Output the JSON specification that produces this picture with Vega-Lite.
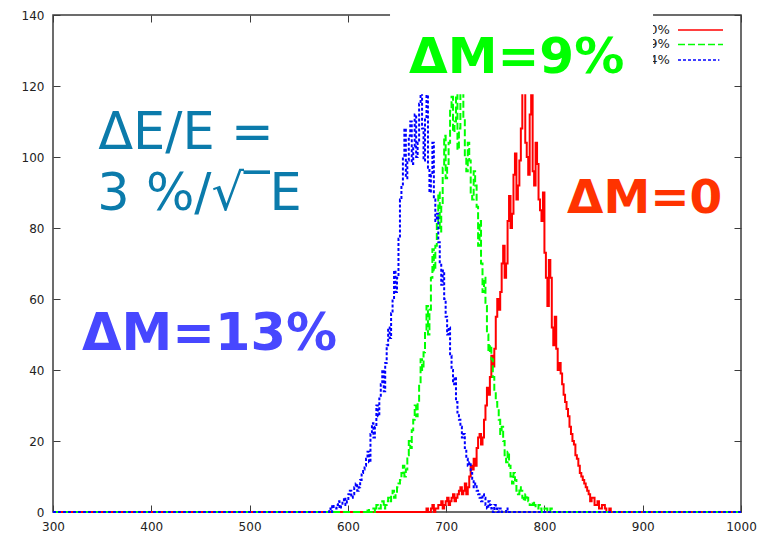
{
  "$schema": "https://vega.github.io/schema/vega-lite/v6.json",
  "width": 688,
  "height": 497,
  "autosize": {"type": "none"},
  "padding": {"left": 53, "top": 15, "right": 26, "bottom": 24},
  "background": "white",
  "config": {
    "view": {"stroke": "#3c3c3c", "strokeWidth": 1.5},
    "axis": {"domain": false, "grid": false, "ticks": true, "tickSize": -7, "tickColor": "#3c3c3c", "tickWidth": 1, "labelFont": "DejaVu Sans", "labelFontSize": 12, "labelColor": "#222222", "title": null},
    "text": {"font": "DejaVu Sans"}
  },
  "datasets": {
    "hist": [
      {"s": "ΔM=0", "x": 300, "n": 0}, {"s": "ΔM=0", "x": 680, "n": 1}, {"s": "ΔM=0", "x": 683, "n": 0}, {"s": "ΔM=0", "x": 686, "n": 2}, {"s": "ΔM=0", "x": 689, "n": 1}, {"s": "ΔM=0", "x": 692, "n": 2}, {"s": "ΔM=0", "x": 695, "n": 3}, {"s": "ΔM=0", "x": 698, "n": 2}, {"s": "ΔM=0", "x": 701, "n": 4}, {"s": "ΔM=0", "x": 704, "n": 3}, {"s": "ΔM=0", "x": 707, "n": 5}, {"s": "ΔM=0", "x": 710, "n": 4}, {"s": "ΔM=0", "x": 713, "n": 6}, {"s": "ΔM=0", "x": 716, "n": 5}, {"s": "ΔM=0", "x": 719, "n": 8}, {"s": "ΔM=0", "x": 722, "n": 7}, {"s": "ΔM=0", "x": 725, "n": 13}, {"s": "ΔM=0", "x": 728, "n": 15}, {"s": "ΔM=0", "x": 731, "n": 18}, {"s": "ΔM=0", "x": 734, "n": 22}, {"s": "ΔM=0", "x": 737, "n": 21}, {"s": "ΔM=0", "x": 740, "n": 30}, {"s": "ΔM=0", "x": 743, "n": 33}, {"s": "ΔM=0", "x": 746, "n": 44}, {"s": "ΔM=0", "x": 749, "n": 46}, {"s": "ΔM=0", "x": 752, "n": 60}, {"s": "ΔM=0", "x": 755, "n": 62}, {"s": "ΔM=0", "x": 758, "n": 75}, {"s": "ΔM=0", "x": 761, "n": 70}, {"s": "ΔM=0", "x": 764, "n": 89}, {"s": "ΔM=0", "x": 767, "n": 84}, {"s": "ΔM=0", "x": 770, "n": 101}, {"s": "ΔM=0", "x": 773, "n": 92}, {"s": "ΔM=0", "x": 776, "n": 108}, {"s": "ΔM=0", "x": 779, "n": 118}, {"s": "ΔM=0", "x": 782, "n": 100}, {"s": "ΔM=0", "x": 785, "n": 112}, {"s": "ΔM=0", "x": 788, "n": 96}, {"s": "ΔM=0", "x": 791, "n": 104}, {"s": "ΔM=0", "x": 794, "n": 88}, {"s": "ΔM=0", "x": 797, "n": 82}, {"s": "ΔM=0", "x": 800, "n": 73}, {"s": "ΔM=0", "x": 803, "n": 58}, {"s": "ΔM=0", "x": 806, "n": 66}, {"s": "ΔM=0", "x": 809, "n": 47}, {"s": "ΔM=0", "x": 812, "n": 46}, {"s": "ΔM=0", "x": 815, "n": 42}, {"s": "ΔM=0", "x": 818, "n": 36}, {"s": "ΔM=0", "x": 821, "n": 31}, {"s": "ΔM=0", "x": 824, "n": 27}, {"s": "ΔM=0", "x": 827, "n": 22}, {"s": "ΔM=0", "x": 830, "n": 19}, {"s": "ΔM=0", "x": 833, "n": 15}, {"s": "ΔM=0", "x": 836, "n": 11}, {"s": "ΔM=0", "x": 839, "n": 9}, {"s": "ΔM=0", "x": 842, "n": 7}, {"s": "ΔM=0", "x": 845, "n": 5}, {"s": "ΔM=0", "x": 848, "n": 4}, {"s": "ΔM=0", "x": 851, "n": 2}, {"s": "ΔM=0", "x": 854, "n": 3}, {"s": "ΔM=0", "x": 857, "n": 1}, {"s": "ΔM=0", "x": 860, "n": 2}, {"s": "ΔM=0", "x": 863, "n": 0}, {"s": "ΔM=0", "x": 866, "n": 1}, {"s": "ΔM=0", "x": 869, "n": 0}, {"s": "ΔM=0", "x": 1000, "n": 0},
      {"s": "ΔM=0", "x": 681.5, "n": 0}, {"s": "ΔM=0", "x": 684.5, "n": 1}, {"s": "ΔM=0", "x": 687.5, "n": 0}, {"s": "ΔM=0", "x": 690.5, "n": 1}, {"s": "ΔM=0", "x": 693.5, "n": 2}, {"s": "ΔM=0", "x": 696.5, "n": 1}, {"s": "ΔM=0", "x": 699.5, "n": 3}, {"s": "ΔM=0", "x": 702.5, "n": 2}, {"s": "ΔM=0", "x": 705.5, "n": 4}, {"s": "ΔM=0", "x": 708.5, "n": 3}, {"s": "ΔM=0", "x": 711.5, "n": 5}, {"s": "ΔM=0", "x": 714.5, "n": 7}, {"s": "ΔM=0", "x": 717.5, "n": 6}, {"s": "ΔM=0", "x": 720.5, "n": 5}, {"s": "ΔM=0", "x": 723.5, "n": 10}, {"s": "ΔM=0", "x": 726.5, "n": 12}, {"s": "ΔM=0", "x": 729.5, "n": 13}, {"s": "ΔM=0", "x": 732.5, "n": 21}, {"s": "ΔM=0", "x": 735.5, "n": 19}, {"s": "ΔM=0", "x": 738.5, "n": 26}, {"s": "ΔM=0", "x": 741.5, "n": 35}, {"s": "ΔM=0", "x": 744.5, "n": 38}, {"s": "ΔM=0", "x": 747.5, "n": 41}, {"s": "ΔM=0", "x": 750.5, "n": 55}, {"s": "ΔM=0", "x": 753.5, "n": 57}, {"s": "ΔM=0", "x": 756.5, "n": 70}, {"s": "ΔM=0", "x": 759.5, "n": 66}, {"s": "ΔM=0", "x": 762.5, "n": 82}, {"s": "ΔM=0", "x": 765.5, "n": 80}, {"s": "ΔM=0", "x": 768.5, "n": 95}, {"s": "ΔM=0", "x": 771.5, "n": 88}, {"s": "ΔM=0", "x": 774.5, "n": 99}, {"s": "ΔM=0", "x": 777.5, "n": 121}, {"s": "ΔM=0", "x": 780.5, "n": 104}, {"s": "ΔM=0", "x": 783.5, "n": 95}, {"s": "ΔM=0", "x": 786.5, "n": 120}, {"s": "ΔM=0", "x": 789.5, "n": 92}, {"s": "ΔM=0", "x": 792.5, "n": 98}, {"s": "ΔM=0", "x": 795.5, "n": 85}, {"s": "ΔM=0", "x": 798.5, "n": 90}, {"s": "ΔM=0", "x": 801.5, "n": 66}, {"s": "ΔM=0", "x": 804.5, "n": 71}, {"s": "ΔM=0", "x": 807.5, "n": 52}, {"s": "ΔM=0", "x": 810.5, "n": 55}, {"s": "ΔM=0", "x": 813.5, "n": 40}, {"s": "ΔM=0", "x": 816.5, "n": 39}, {"s": "ΔM=0", "x": 819.5, "n": 33}, {"s": "ΔM=0", "x": 822.5, "n": 29}, {"s": "ΔM=0", "x": 825.5, "n": 24}, {"s": "ΔM=0", "x": 828.5, "n": 20}, {"s": "ΔM=0", "x": 831.5, "n": 16}, {"s": "ΔM=0", "x": 834.5, "n": 13}, {"s": "ΔM=0", "x": 837.5, "n": 10}, {"s": "ΔM=0", "x": 840.5, "n": 8}, {"s": "ΔM=0", "x": 843.5, "n": 6}, {"s": "ΔM=0", "x": 846.5, "n": 3}, {"s": "ΔM=0", "x": 849.5, "n": 4}, {"s": "ΔM=0", "x": 852.5, "n": 2}, {"s": "ΔM=0", "x": 855.5, "n": 1}, {"s": "ΔM=0", "x": 858.5, "n": 2}, {"s": "ΔM=0", "x": 861.5, "n": 1}, {"s": "ΔM=0", "x": 864.5, "n": 0}, {"s": "ΔM=0", "x": 867.5, "n": 0},

      {"s": "ΔM=9%", "x": 300, "n": 0}, {"s": "ΔM=9%", "x": 620, "n": 1}, {"s": "ΔM=9%", "x": 623, "n": 0}, {"s": "ΔM=9%", "x": 626, "n": 1}, {"s": "ΔM=9%", "x": 629, "n": 2}, {"s": "ΔM=9%", "x": 632, "n": 1}, {"s": "ΔM=9%", "x": 635, "n": 3}, {"s": "ΔM=9%", "x": 638, "n": 2}, {"s": "ΔM=9%", "x": 641, "n": 4}, {"s": "ΔM=9%", "x": 644, "n": 5}, {"s": "ΔM=9%", "x": 647, "n": 4}, {"s": "ΔM=9%", "x": 650, "n": 7}, {"s": "ΔM=9%", "x": 653, "n": 9}, {"s": "ΔM=9%", "x": 656, "n": 13}, {"s": "ΔM=9%", "x": 659, "n": 12}, {"s": "ΔM=9%", "x": 662, "n": 20}, {"s": "ΔM=9%", "x": 665, "n": 23}, {"s": "ΔM=9%", "x": 668, "n": 30}, {"s": "ΔM=9%", "x": 671, "n": 31}, {"s": "ΔM=9%", "x": 674, "n": 43}, {"s": "ΔM=9%", "x": 677, "n": 45}, {"s": "ΔM=9%", "x": 680, "n": 58}, {"s": "ΔM=9%", "x": 683, "n": 57}, {"s": "ΔM=9%", "x": 686, "n": 74}, {"s": "ΔM=9%", "x": 689, "n": 75}, {"s": "ΔM=9%", "x": 692, "n": 90}, {"s": "ΔM=9%", "x": 695, "n": 86}, {"s": "ΔM=9%", "x": 698, "n": 106}, {"s": "ΔM=9%", "x": 701, "n": 98}, {"s": "ΔM=9%", "x": 704, "n": 113}, {"s": "ΔM=9%", "x": 707, "n": 107}, {"s": "ΔM=9%", "x": 710, "n": 122}, {"s": "ΔM=9%", "x": 713, "n": 108}, {"s": "ΔM=9%", "x": 716, "n": 119}, {"s": "ΔM=9%", "x": 719, "n": 100}, {"s": "ΔM=9%", "x": 722, "n": 104}, {"s": "ΔM=9%", "x": 725, "n": 90}, {"s": "ΔM=9%", "x": 728, "n": 96}, {"s": "ΔM=9%", "x": 731, "n": 86}, {"s": "ΔM=9%", "x": 734, "n": 82}, {"s": "ΔM=9%", "x": 737, "n": 62}, {"s": "ΔM=9%", "x": 740, "n": 58}, {"s": "ΔM=9%", "x": 743, "n": 45}, {"s": "ΔM=9%", "x": 746, "n": 43}, {"s": "ΔM=9%", "x": 749, "n": 34}, {"s": "ΔM=9%", "x": 752, "n": 29}, {"s": "ΔM=9%", "x": 755, "n": 22}, {"s": "ΔM=9%", "x": 758, "n": 20}, {"s": "ΔM=9%", "x": 761, "n": 14}, {"s": "ΔM=9%", "x": 764, "n": 13}, {"s": "ΔM=9%", "x": 767, "n": 8}, {"s": "ΔM=9%", "x": 770, "n": 9}, {"s": "ΔM=9%", "x": 773, "n": 5}, {"s": "ΔM=9%", "x": 776, "n": 6}, {"s": "ΔM=9%", "x": 779, "n": 3}, {"s": "ΔM=9%", "x": 782, "n": 4}, {"s": "ΔM=9%", "x": 785, "n": 2}, {"s": "ΔM=9%", "x": 788, "n": 3}, {"s": "ΔM=9%", "x": 791, "n": 1}, {"s": "ΔM=9%", "x": 794, "n": 2}, {"s": "ΔM=9%", "x": 797, "n": 0}, {"s": "ΔM=9%", "x": 800, "n": 1}, {"s": "ΔM=9%", "x": 803, "n": 0}, {"s": "ΔM=9%", "x": 806, "n": 1}, {"s": "ΔM=9%", "x": 809, "n": 0}, {"s": "ΔM=9%", "x": 1000, "n": 0},
      {"s": "ΔM=9%", "x": 621.5, "n": 0}, {"s": "ΔM=9%", "x": 624.5, "n": 1}, {"s": "ΔM=9%", "x": 627.5, "n": 0}, {"s": "ΔM=9%", "x": 630.5, "n": 1}, {"s": "ΔM=9%", "x": 633.5, "n": 2}, {"s": "ΔM=9%", "x": 636.5, "n": 1}, {"s": "ΔM=9%", "x": 639.5, "n": 3}, {"s": "ΔM=9%", "x": 642.5, "n": 3}, {"s": "ΔM=9%", "x": 645.5, "n": 6}, {"s": "ΔM=9%", "x": 648.5, "n": 5}, {"s": "ΔM=9%", "x": 651.5, "n": 8}, {"s": "ΔM=9%", "x": 654.5, "n": 11}, {"s": "ΔM=9%", "x": 657.5, "n": 10}, {"s": "ΔM=9%", "x": 660.5, "n": 16}, {"s": "ΔM=9%", "x": 663.5, "n": 18}, {"s": "ΔM=9%", "x": 666.5, "n": 26}, {"s": "ΔM=9%", "x": 669.5, "n": 27}, {"s": "ΔM=9%", "x": 672.5, "n": 36}, {"s": "ΔM=9%", "x": 675.5, "n": 40}, {"s": "ΔM=9%", "x": 678.5, "n": 51}, {"s": "ΔM=9%", "x": 681.5, "n": 50}, {"s": "ΔM=9%", "x": 684.5, "n": 66}, {"s": "ΔM=9%", "x": 687.5, "n": 68}, {"s": "ΔM=9%", "x": 690.5, "n": 82}, {"s": "ΔM=9%", "x": 693.5, "n": 79}, {"s": "ΔM=9%", "x": 696.5, "n": 97}, {"s": "ΔM=9%", "x": 699.5, "n": 94}, {"s": "ΔM=9%", "x": 702.5, "n": 104}, {"s": "ΔM=9%", "x": 705.5, "n": 117}, {"s": "ΔM=9%", "x": 708.5, "n": 110}, {"s": "ΔM=9%", "x": 711.5, "n": 102}, {"s": "ΔM=9%", "x": 714.5, "n": 124}, {"s": "ΔM=9%", "x": 717.5, "n": 111}, {"s": "ΔM=9%", "x": 720.5, "n": 96}, {"s": "ΔM=9%", "x": 723.5, "n": 99}, {"s": "ΔM=9%", "x": 726.5, "n": 88}, {"s": "ΔM=9%", "x": 729.5, "n": 92}, {"s": "ΔM=9%", "x": 732.5, "n": 75}, {"s": "ΔM=9%", "x": 735.5, "n": 70}, {"s": "ΔM=9%", "x": 738.5, "n": 66}, {"s": "ΔM=9%", "x": 741.5, "n": 50}, {"s": "ΔM=9%", "x": 744.5, "n": 47}, {"s": "ΔM=9%", "x": 747.5, "n": 38}, {"s": "ΔM=9%", "x": 750.5, "n": 31}, {"s": "ΔM=9%", "x": 753.5, "n": 26}, {"s": "ΔM=9%", "x": 756.5, "n": 24}, {"s": "ΔM=9%", "x": 759.5, "n": 16}, {"s": "ΔM=9%", "x": 762.5, "n": 17}, {"s": "ΔM=9%", "x": 765.5, "n": 10}, {"s": "ΔM=9%", "x": 768.5, "n": 11}, {"s": "ΔM=9%", "x": 771.5, "n": 6}, {"s": "ΔM=9%", "x": 774.5, "n": 7}, {"s": "ΔM=9%", "x": 777.5, "n": 4}, {"s": "ΔM=9%", "x": 780.5, "n": 5}, {"s": "ΔM=9%", "x": 783.5, "n": 3}, {"s": "ΔM=9%", "x": 786.5, "n": 2}, {"s": "ΔM=9%", "x": 789.5, "n": 2}, {"s": "ΔM=9%", "x": 792.5, "n": 1}, {"s": "ΔM=9%", "x": 795.5, "n": 1}, {"s": "ΔM=9%", "x": 798.5, "n": 0}, {"s": "ΔM=9%", "x": 801.5, "n": 1}, {"s": "ΔM=9%", "x": 804.5, "n": 0}, {"s": "ΔM=9%", "x": 807.5, "n": 0},

      {"s": "ΔM=13%", "x": 300, "n": 0}, {"s": "ΔM=13%", "x": 581, "n": 1}, {"s": "ΔM=13%", "x": 584, "n": 2}, {"s": "ΔM=13%", "x": 587, "n": 1}, {"s": "ΔM=13%", "x": 590, "n": 3}, {"s": "ΔM=13%", "x": 593, "n": 2}, {"s": "ΔM=13%", "x": 596, "n": 4}, {"s": "ΔM=13%", "x": 599, "n": 3}, {"s": "ΔM=13%", "x": 602, "n": 6}, {"s": "ΔM=13%", "x": 605, "n": 5}, {"s": "ΔM=13%", "x": 608, "n": 8}, {"s": "ΔM=13%", "x": 611, "n": 7}, {"s": "ΔM=13%", "x": 614, "n": 11}, {"s": "ΔM=13%", "x": 617, "n": 13}, {"s": "ΔM=13%", "x": 620, "n": 17}, {"s": "ΔM=13%", "x": 623, "n": 22}, {"s": "ΔM=13%", "x": 626, "n": 21}, {"s": "ΔM=13%", "x": 629, "n": 30}, {"s": "ΔM=13%", "x": 632, "n": 32}, {"s": "ΔM=13%", "x": 635, "n": 40}, {"s": "ΔM=13%", "x": 638, "n": 42}, {"s": "ΔM=13%", "x": 641, "n": 52}, {"s": "ΔM=13%", "x": 644, "n": 56}, {"s": "ΔM=13%", "x": 647, "n": 68}, {"s": "ΔM=13%", "x": 650, "n": 66}, {"s": "ΔM=13%", "x": 653, "n": 88}, {"s": "ΔM=13%", "x": 656, "n": 100}, {"s": "ΔM=13%", "x": 659, "n": 94}, {"s": "ΔM=13%", "x": 662, "n": 106}, {"s": "ΔM=13%", "x": 665, "n": 98}, {"s": "ΔM=13%", "x": 668, "n": 112}, {"s": "ΔM=13%", "x": 671, "n": 104}, {"s": "ΔM=13%", "x": 674, "n": 120}, {"s": "ΔM=13%", "x": 677, "n": 99}, {"s": "ΔM=13%", "x": 680, "n": 121}, {"s": "ΔM=13%", "x": 683, "n": 90}, {"s": "ΔM=13%", "x": 686, "n": 104}, {"s": "ΔM=13%", "x": 689, "n": 82}, {"s": "ΔM=13%", "x": 692, "n": 76}, {"s": "ΔM=13%", "x": 695, "n": 64}, {"s": "ΔM=13%", "x": 698, "n": 60}, {"s": "ΔM=13%", "x": 701, "n": 50}, {"s": "ΔM=13%", "x": 704, "n": 44}, {"s": "ΔM=13%", "x": 707, "n": 36}, {"s": "ΔM=13%", "x": 710, "n": 31}, {"s": "ΔM=13%", "x": 713, "n": 26}, {"s": "ΔM=13%", "x": 716, "n": 21}, {"s": "ΔM=13%", "x": 719, "n": 18}, {"s": "ΔM=13%", "x": 722, "n": 13}, {"s": "ΔM=13%", "x": 725, "n": 11}, {"s": "ΔM=13%", "x": 728, "n": 7}, {"s": "ΔM=13%", "x": 731, "n": 6}, {"s": "ΔM=13%", "x": 734, "n": 4}, {"s": "ΔM=13%", "x": 737, "n": 5}, {"s": "ΔM=13%", "x": 740, "n": 2}, {"s": "ΔM=13%", "x": 743, "n": 3}, {"s": "ΔM=13%", "x": 746, "n": 1}, {"s": "ΔM=13%", "x": 749, "n": 2}, {"s": "ΔM=13%", "x": 752, "n": 0}, {"s": "ΔM=13%", "x": 755, "n": 1}, {"s": "ΔM=13%", "x": 758, "n": 0}, {"s": "ΔM=13%", "x": 761, "n": 1}, {"s": "ΔM=13%", "x": 764, "n": 0}, {"s": "ΔM=13%", "x": 1000, "n": 0},
      {"s": "ΔM=13%", "x": 582.5, "n": 0}, {"s": "ΔM=13%", "x": 585.5, "n": 1}, {"s": "ΔM=13%", "x": 588.5, "n": 2}, {"s": "ΔM=13%", "x": 591.5, "n": 1}, {"s": "ΔM=13%", "x": 594.5, "n": 3}, {"s": "ΔM=13%", "x": 597.5, "n": 2}, {"s": "ΔM=13%", "x": 600.5, "n": 5}, {"s": "ΔM=13%", "x": 603.5, "n": 4}, {"s": "ΔM=13%", "x": 606.5, "n": 7}, {"s": "ΔM=13%", "x": 609.5, "n": 6}, {"s": "ΔM=13%", "x": 612.5, "n": 9}, {"s": "ΔM=13%", "x": 615.5, "n": 12}, {"s": "ΔM=13%", "x": 618.5, "n": 15}, {"s": "ΔM=13%", "x": 621.5, "n": 14}, {"s": "ΔM=13%", "x": 624.5, "n": 25}, {"s": "ΔM=13%", "x": 627.5, "n": 24}, {"s": "ΔM=13%", "x": 630.5, "n": 27}, {"s": "ΔM=13%", "x": 633.5, "n": 36}, {"s": "ΔM=13%", "x": 636.5, "n": 34}, {"s": "ΔM=13%", "x": 639.5, "n": 47}, {"s": "ΔM=13%", "x": 642.5, "n": 49}, {"s": "ΔM=13%", "x": 645.5, "n": 60}, {"s": "ΔM=13%", "x": 648.5, "n": 62}, {"s": "ΔM=13%", "x": 651.5, "n": 77}, {"s": "ΔM=13%", "x": 654.5, "n": 92}, {"s": "ΔM=13%", "x": 657.5, "n": 108}, {"s": "ΔM=13%", "x": 660.5, "n": 99}, {"s": "ΔM=13%", "x": 663.5, "n": 110}, {"s": "ΔM=13%", "x": 666.5, "n": 103}, {"s": "ΔM=13%", "x": 669.5, "n": 100}, {"s": "ΔM=13%", "x": 672.5, "n": 115}, {"s": "ΔM=13%", "x": 675.5, "n": 108}, {"s": "ΔM=13%", "x": 678.5, "n": 111}, {"s": "ΔM=13%", "x": 681.5, "n": 97}, {"s": "ΔM=13%", "x": 684.5, "n": 95}, {"s": "ΔM=13%", "x": 687.5, "n": 88}, {"s": "ΔM=13%", "x": 690.5, "n": 84}, {"s": "ΔM=13%", "x": 693.5, "n": 70}, {"s": "ΔM=13%", "x": 696.5, "n": 68}, {"s": "ΔM=13%", "x": 699.5, "n": 55}, {"s": "ΔM=13%", "x": 702.5, "n": 52}, {"s": "ΔM=13%", "x": 705.5, "n": 40}, {"s": "ΔM=13%", "x": 708.5, "n": 38}, {"s": "ΔM=13%", "x": 711.5, "n": 28}, {"s": "ΔM=13%", "x": 714.5, "n": 24}, {"s": "ΔM=13%", "x": 717.5, "n": 22}, {"s": "ΔM=13%", "x": 720.5, "n": 15}, {"s": "ΔM=13%", "x": 723.5, "n": 14}, {"s": "ΔM=13%", "x": 726.5, "n": 9}, {"s": "ΔM=13%", "x": 729.5, "n": 8}, {"s": "ΔM=13%", "x": 732.5, "n": 5}, {"s": "ΔM=13%", "x": 735.5, "n": 3}, {"s": "ΔM=13%", "x": 738.5, "n": 4}, {"s": "ΔM=13%", "x": 741.5, "n": 1}, {"s": "ΔM=13%", "x": 744.5, "n": 2}, {"s": "ΔM=13%", "x": 747.5, "n": 0}, {"s": "ΔM=13%", "x": 750.5, "n": 1}, {"s": "ΔM=13%", "x": 753.5, "n": 1}, {"s": "ΔM=13%", "x": 756.5, "n": 0}, {"s": "ΔM=13%", "x": 759.5, "n": 0}, {"s": "ΔM=13%", "x": 762.5, "n": 0}
    ]
  },
  "resolve": {"axis": {"x": "independent", "y": "independent"}},
  "layer": [
    {
      "data": {"name": "hist"},
      "transform": [{"filter": "datum.s === 'ΔM=0'"}],
      "mark": {"type": "line", "interpolate": "step-after", "color": "#ff0000", "strokeWidth": 2},
      "encoding": {
        "x": {"field": "x", "type": "quantitative", "scale": {"domain": [300, 1000], "nice": false, "zero": false},
              "axis": {"orient": "bottom", "values": [300, 400, 500, 600, 700, 800, 900, 1000], "format": "d", "labelPadding": 16, "labelFlush": false}},
        "y": {"field": "n", "type": "quantitative", "scale": {"domain": [0, 140], "nice": false},
              "axis": {"orient": "left", "values": [0, 20, 40, 60, 80, 100, 120, 140], "labelPadding": 16}}
      }
    },
    {
      "data": {"name": "hist"},
      "transform": [{"filter": "datum.s === 'ΔM=9%'"}],
      "mark": {"type": "line", "interpolate": "step-after", "color": "#00ff00", "strokeWidth": 2, "strokeDash": [7, 3]},
      "encoding": {
        "x": {"field": "x", "type": "quantitative", "axis": {"orient": "top", "labels": false, "values": [300, 400, 500, 600, 700, 800, 900, 1000]}},
        "y": {"field": "n", "type": "quantitative", "axis": {"orient": "right", "labels": false, "values": [0, 20, 40, 60, 80, 100, 120, 140]}}
      }
    },
    {
      "data": {"name": "hist"},
      "transform": [{"filter": "datum.s === 'ΔM=13%'"}],
      "mark": {"type": "line", "interpolate": "step-after", "color": "#0000ff", "strokeWidth": 2, "strokeDash": [3, 2]},
      "encoding": {
        "x": {"field": "x", "type": "quantitative", "axis": null},
        "y": {"field": "n", "type": "quantitative", "axis": null}
      }
    },
    {
      "data": {"values": [{}]},
      "mark": {"type": "text", "align": "right", "baseline": "middle", "fontSize": 13, "color": "#222222", "text": "0%"},
      "encoding": {"x": {"datum": 927.7, "type": "quantitative", "axis": null}, "y": {"datum": 135.8, "type": "quantitative", "axis": null}}
    },
    {
      "data": {"values": [{}]},
      "mark": {"type": "text", "align": "right", "baseline": "middle", "fontSize": 13, "color": "#222222", "text": "9%"},
      "encoding": {"x": {"datum": 927.7, "type": "quantitative", "axis": null}, "y": {"datum": 131.7, "type": "quantitative", "axis": null}}
    },
    {
      "data": {"values": [{}]},
      "mark": {"type": "text", "align": "right", "baseline": "middle", "fontSize": 13, "color": "#222222", "text": "14%"},
      "encoding": {"x": {"datum": 927.7, "type": "quantitative", "axis": null}, "y": {"datum": 127.3, "type": "quantitative", "axis": null}}
    },
    {
      "data": {"values": [{}]},
      "mark": {"type": "rect", "fill": "white"},
      "encoding": {
        "x": {"datum": 642.9, "type": "quantitative", "axis": null},
        "x2": {"datum": 910.5},
        "y": {"datum": 117.7, "type": "quantitative", "axis": null},
        "y2": {"datum": 150}
      }
    },
    {
      "data": {"values": [{}]},
      "mark": {"type": "rule", "color": "#ff0000", "strokeWidth": 1.5},
      "encoding": {"x": {"datum": 935.9, "type": "quantitative", "axis": null}, "x2": {"datum": 981.7}, "y": {"datum": 135.8, "type": "quantitative", "axis": null}}
    },
    {
      "data": {"values": [{}]},
      "mark": {"type": "rule", "color": "#00ff00", "strokeWidth": 1.5, "strokeDash": [7, 3]},
      "encoding": {"x": {"datum": 935.9, "type": "quantitative", "axis": null}, "x2": {"datum": 981.7}, "y": {"datum": 131.7, "type": "quantitative", "axis": null}}
    },
    {
      "data": {"values": [{}]},
      "mark": {"type": "rule", "color": "#0000ff", "strokeWidth": 1.5, "strokeDash": [3, 2]},
      "encoding": {"x": {"datum": 935.9, "type": "quantitative", "axis": null}, "x2": {"datum": 978}, "y": {"datum": 127.3, "type": "quantitative", "axis": null}}
    },
    {
      "data": {"values": [{}]},
      "mark": {"type": "text", "align": "left", "baseline": "alphabetic", "fontSize": 51, "color": "#0b7bab", "text": "ΔE/E ="},
      "encoding": {"x": {"datum": 346, "type": "quantitative", "axis": null}, "y": {"datum": 102.3, "type": "quantitative", "axis": null}}
    },
    {
      "data": {"values": [{}]},
      "mark": {"type": "text", "align": "left", "baseline": "alphabetic", "fontSize": 51, "color": "#0b7bab", "text": "3 %/√‾E"},
      "encoding": {"x": {"datum": 345, "type": "quantitative", "axis": null}, "y": {"datum": 85.1, "type": "quantitative", "axis": null}}
    },
    {
      "data": {"values": [{}]},
      "mark": {"type": "text", "align": "left", "baseline": "alphabetic", "fontSize": 50, "fontWeight": "bold", "color": "#00ff00", "text": "ΔM=9%"},
      "encoding": {"x": {"datum": 662.2, "type": "quantitative", "axis": null}, "y": {"datum": 123.6, "type": "quantitative", "axis": null}}
    },
    {
      "data": {"values": [{}]},
      "mark": {"type": "text", "align": "left", "baseline": "alphabetic", "fontSize": 47, "fontWeight": "bold", "color": "#ff3300", "text": "ΔM=0"},
      "encoding": {"x": {"datum": 823, "type": "quantitative", "axis": null}, "y": {"datum": 84.2, "type": "quantitative", "axis": null}}
    },
    {
      "data": {"values": [{}]},
      "mark": {"type": "text", "align": "left", "baseline": "alphabetic", "fontSize": 51, "fontWeight": "bold", "color": "#4747ff", "text": "ΔM=13%"},
      "encoding": {"x": {"datum": 329.5, "type": "quantitative", "axis": null}, "y": {"datum": 45.6, "type": "quantitative", "axis": null}}
    }
  ]
}
